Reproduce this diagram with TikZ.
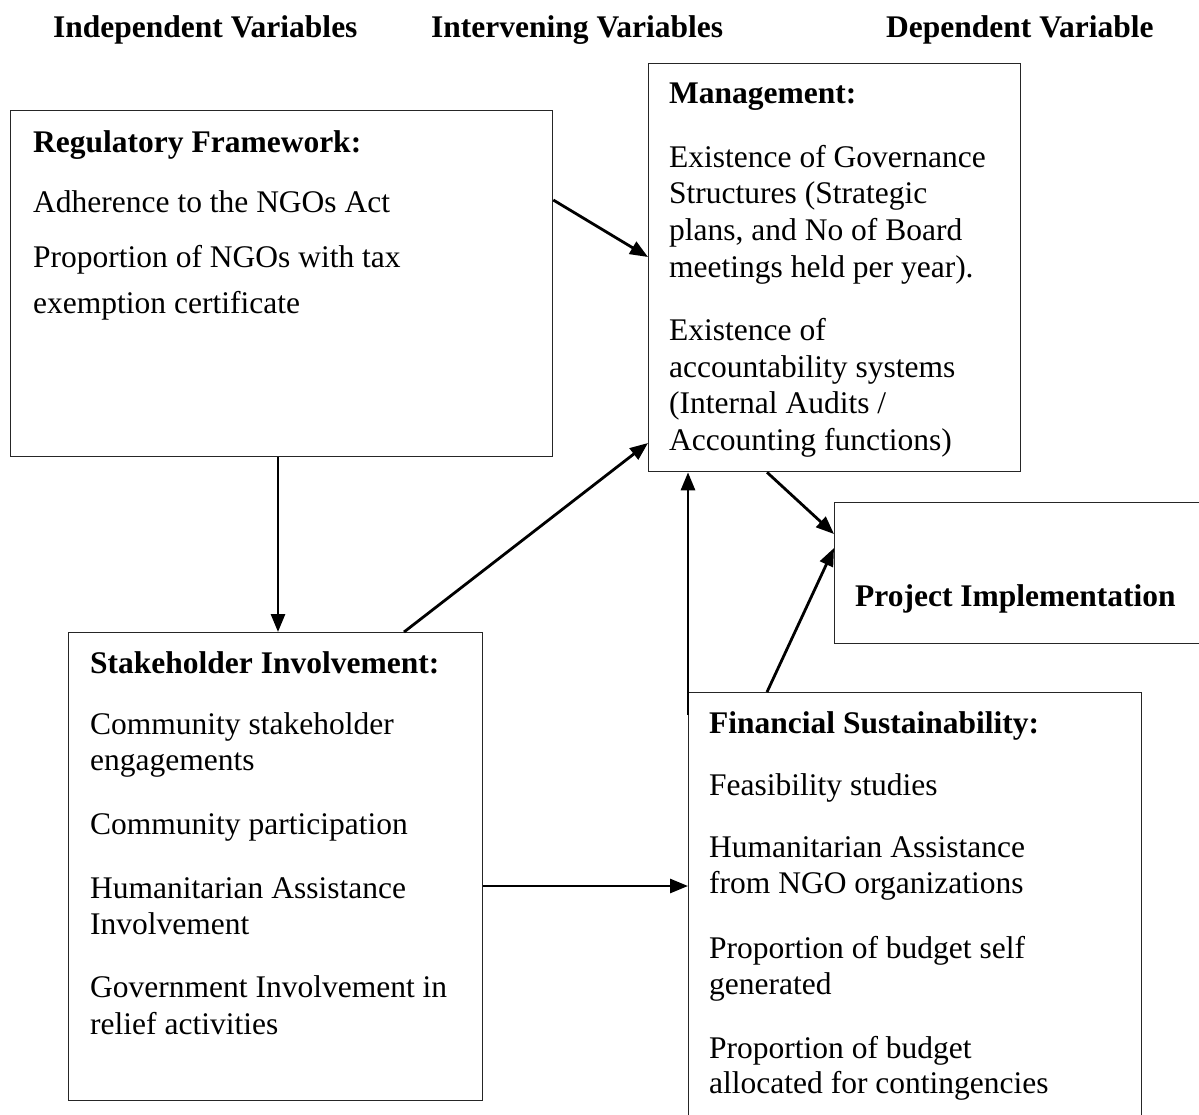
\documentclass[tikz,border=0pt]{standalone}
\usepackage{fontspec}
\setmainfont{Liberation Serif}
\usetikzlibrary{arrows.meta,calc}
\begin{document}
\begin{tikzpicture}[x=1pt,y=-1pt,
  box/.style={draw=black!85,line width=1.3pt,inner sep=0pt,anchor=north west},
  txt/.style={anchor=base west,inner sep=0pt,font=\fontsize{31.5}{36.7}\selectfont},
  hd/.style={anchor=base west,inner sep=0pt,font=\fontsize{31.5}{36.7}\selectfont\bfseries},
  arr/.style={line width=2.8pt,-{Triangle[length=18pt,width=14pt]}}]
\path[use as bounding box] (0,0) rectangle (1199,1114);
\clip (0,0) rectangle (1199,1114);

% column headers
\node[hd] (h1) at (53,37) {Independent Variables};
\node[hd] (h2) at (431,37) {Intervening Variables};
\node[hd] (h3) at (886,37) {Dependent Variable};

% boxes
\node[box,minimum width=542pt,minimum height=346pt] (reg) at (10,110) {};
\node[box,minimum width=372pt,minimum height=408pt] (mgmt) at (648,63) {};
\node[box,minimum width=380pt,minimum height=141pt] (proj) at (834,502) {};
\node[box,minimum width=414pt,minimum height=468pt] (stake) at (68,632) {};
\node[box,minimum width=453pt,minimum height=440pt] (fin) at (688,692) {};

% Regulatory Framework
\node[hd] (r0) at (33,152) {Regulatory Framework:};
\node[txt] (r1) at (33,212) {Adherence to the NGOs Act};
\node[txt] (r2) at (33,267) {Proportion of NGOs with tax};
\node[txt] (r3) at (33,313) {exemption certificate};

% Management
\node[hd] (m0) at (669,103) {Management:};
\node[txt] (m1) at (669,167) {Existence of Governance};
\node[txt] (m2) at (669,203) {Structures (Strategic};
\node[txt] (m3) at (669,240) {plans, and No of Board};
\node[txt] (m4) at (669,277) {meetings held per year).};
\node[txt] (m5) at (669,340) {Existence of};
\node[txt] (m6) at (669,377) {accountability systems};
\node[txt] (m7) at (669,413) {(Internal Audits /};
\node[txt] (m8) at (669,450) {Accounting functions)};

% Project Implementation
\node[hd] (p0) at (855,606) {Project Implementation};

% Stakeholder Involvement
\node[hd] (s0) at (90,673) {Stakeholder Involvement:};
\node[txt] (s1) at (90,734) {Community stakeholder};
\node[txt] (s2) at (90,770) {engagements};
\node[txt] (s3) at (90,834) {Community participation};
\node[txt] (s4) at (90,898) {Humanitarian Assistance};
\node[txt] (s5) at (90,934) {Involvement};
\node[txt] (s6) at (90,997) {Government Involvement in};
\node[txt] (s7) at (90,1034) {relief activities};

% Financial Sustainability
\node[hd] (f0) at (709,733) {Financial Sustainability:};
\node[txt] (f1) at (709,795) {Feasibility studies};
\node[txt] (f2) at (709,857) {Humanitarian Assistance};
\node[txt] (f3) at (709,893) {from NGO organizations};
\node[txt] (f4) at (709,958) {Proportion of budget self};
\node[txt] (f5) at (709,994) {generated};
\node[txt] (f6) at (709,1058) {Proportion of budget};
\node[txt] (f7) at (709,1093) {allocated for contingencies};

% connectors
\draw[arr] ($(reg.north east)+(0,90)$) -- ($(mgmt.north west)+(0,194)$);
\draw[arr] ($(reg.south west)+(268,0)$) -- ($(stake.north west)+(210,0)$);
\draw[arr] ($(stake.north west)+(336,0)$) -- ($(mgmt.north west)+(0,380)$);
\draw[arr] ($(fin.north west)+(0,23)$) -- (fin.north west |- mgmt.south);
\draw[arr] ($(mgmt.south west)+(119,0)$) -- ($(proj.north west)+(0,32)$);
\draw[arr] ($(fin.north west)+(79,0)$) -- ($(proj.north west)+(0,46)$);
\draw[arr] (stake.east |- 0,886) -- (fin.west |- 0,886);
\end{tikzpicture}
\end{document}
